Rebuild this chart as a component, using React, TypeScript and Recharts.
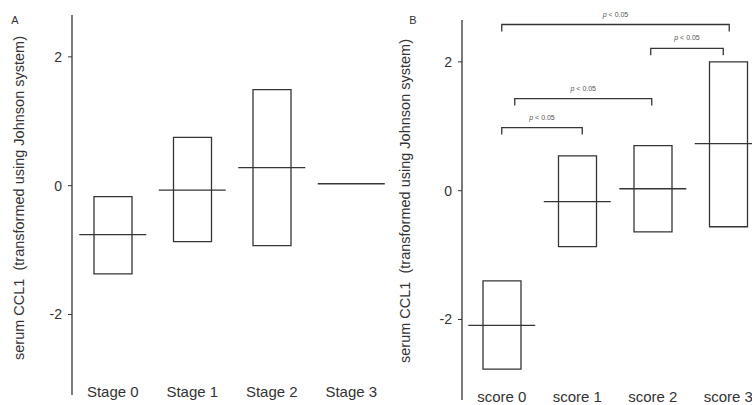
import React from "react";
import {
  ComposedChart,
  Bar,
  Scatter,
  XAxis,
  YAxis,
  ReferenceLine,
} from "recharts";

// panel A: tumour stage
const STAGES = ["Stage 0", "Stage 1", "Stage 2", "Stage 3"];
const STAGE_LOW = [-1.37, -0.87, -0.93, null];
const STAGE_HIGH = [-0.17, 0.75, 1.49, null];
const STAGE_MEDIAN = [-0.76, -0.07, 0.28, 0.03];

// panel B: score
const SCORES = ["score 0", "score 1", "score 2", "score 3"];
const SCORE_LOW = [-2.77, -0.87, -0.64, -0.56];
const SCORE_HIGH = [-1.4, 0.54, 0.7, 2.0];
const SCORE_MEDIAN = [-2.09, -0.17, 0.03, 0.73];

// significance brackets in panel B
const BRACKET_FROM = ["score 0", "score 2", "score 0", "score 0"];
const BRACKET_TO = ["score 3", "score 3", "score 2", "score 1"];
const BRACKET_LEVEL = [2.58, 2.21, 1.43, 0.98];
const BRACKET_TEXT = ["< 0.05", "< 0.05", "< 0.05", "< 0.05"];

const Y_TICKS = [-2, 0, 2];
const Y_DOMAIN: [number, number] = [-3.25, 2.65];
const Y_TITLE = "serum CCL1  (transformed using Johnson system)";

const INK = "#353535";
const FONT = "'Liberation Sans', Arial, Helvetica, sans-serif";

// small horizontal nudges (px) for the bracket ends, [start, end]
const BRACKET_NUDGE: [number, number][] = [
  [0, 1],
  [-2, -5],
  [13, -1],
  [0, 5],
];

function buildRows(
  cats: string[],
  low: (number | null)[],
  high: (number | null)[],
  median: number[]
) {
  return cats.map((c, i) => ({
    cat: c,
    box: low[i] == null || high[i] == null ? null : [low[i], high[i]],
    median: median[i],
  }));
}

const stageRows = buildRows(STAGES, STAGE_LOW, STAGE_HIGH, STAGE_MEDIAN);
const scoreRows = buildRows(SCORES, SCORE_LOW, SCORE_HIGH, SCORE_MEDIAN);

const MedianLine = (props: any) => {
  const { cx, cy } = props;
  if (cx == null || cy == null) return <g />;
  return (
    <line x1={cx - 33.5} x2={cx + 33.5} y1={cy} y2={cy} stroke={INK} strokeWidth={1.3} />
  );
};

const CatTick = (props: any) => {
  const { x, y, payload } = props;
  return (
    <text
      x={x}
      y={y - 12}
      textAnchor="middle"
      dominantBaseline="central"
      fontSize={15}
      fill="#333"
      fontFamily={FONT}
    >
      {payload.value}
    </text>
  );
};

const makeTitle =
  (letter: string, tx: number, ty: number, lx: number, ly: number) => (props: any) => {
    return (
      <g fontFamily={FONT} fill="#333">
        <text x={lx} y={ly} fontSize={11} textAnchor="middle" dominantBaseline="central">
          {letter}
        </text>
        <text
          x={tx}
          y={ty}
          transform={`rotate(-90, ${tx}, ${ty})`}
          textAnchor="middle"
          dominantBaseline="central"
          fontSize={14.5}
          style={{ whiteSpace: "pre" }}
        >
          {Y_TITLE}
        </text>
      </g>
    );
  };

const makeBracket = (idx: number) => (props: any) => {
  const { x1, x2, y1 } = props;
  if (x1 == null || x2 == null || y1 == null) return <g />;
  const [n0, n1] = BRACKET_NUDGE[idx];
  const a = Math.min(x1, x2) + n0;
  const b = Math.max(x1, x2) + n1;
  const y = y1;
  return (
    <g>
      <path
        d={`M${a},${y + 7} L${a},${y} L${b},${y} L${b},${y + 7}`}
        fill="none"
        stroke={INK}
        strokeWidth={1.3}
      />
      <text
        x={(a + b) / 2}
        y={y - 8}
        textAnchor="middle"
        fontSize={7}
        fill="#555"
        fontFamily={FONT}
      >
        <tspan fontStyle="italic">p</tspan> {BRACKET_TEXT[idx]}
      </text>
    </g>
  );
};

function Panel({
  rows,
  width,
  padLeft,
  letter,
  titleX,
  titleY,
  letterX,
  letterY,
  brackets,
}: {
  rows: any[];
  width: number;
  padLeft: number;
  letter: string;
  titleX: number;
  titleY: number;
  letterX: number;
  letterY: number;
  brackets: boolean;
}) {
  return (
    <ComposedChart
      width={width}
      height={405}
      data={rows}
      margin={{ top: 15, right: 0, bottom: 0, left: 0 }}
    >
      <XAxis
        dataKey="cat"
        type="category"
        axisLine={false}
        tickLine={false}
        height={10}
        tick={<CatTick />}
        padding={{ left: padLeft, right: 0 }}
        interval={0}
      />
      <YAxis
        type="number"
        domain={Y_DOMAIN}
        ticks={Y_TICKS}
        width={72}
        tickSize={4}
        tickMargin={6}
        axisLine={{ stroke: INK, strokeWidth: 1.3 }}
        tickLine={{ stroke: INK, strokeWidth: 1 }}
        tick={{ fontSize: 14, fill: "#333", fontFamily: FONT }}
        label={{ content: makeTitle(letter, titleX, titleY, letterX, letterY) }}
        allowDataOverflow
      />
      <Bar
        dataKey="box"
        barSize={38}
        fill="none"
        stroke={INK}
        strokeWidth={1.3}
        isAnimationActive={false}
      />
      <Scatter dataKey="median" shape={<MedianLine />} isAnimationActive={false} />
      {brackets &&
        BRACKET_FROM.map((from, i) => (
          <ReferenceLine
            key={i}
            segment={[
              { x: from, y: BRACKET_LEVEL[i] },
              { x: BRACKET_TO[i], y: BRACKET_LEVEL[i] },
            ]}
            shape={makeBracket(i)}
            ifOverflow="visible"
          />
        ))}
    </ComposedChart>
  );
}

export default function App() {
  return (
    <div
      style={{
        position: "absolute",
        left: 0,
        top: 0,
        width: 752,
        height: 405,
        overflow: "hidden",
        background: "#fff",
      }}
    >
      <div style={{ position: "absolute", left: 0, top: 0 }}>
        <Panel
          rows={stageRows}
          width={391}
          padLeft={1}
          letter="A"
          titleX={19}
          titleY={198}
          letterX={15}
          letterY={20}
          brackets={false}
        />
      </div>
      <div style={{ position: "absolute", left: 390, top: 5 }}>
        <Panel
          rows={scoreRows}
          width={376}
          padLeft={2}
          letter="B"
          titleX={15}
          titleY={196}
          letterX={23}
          letterY={15}
          brackets={true}
        />
      </div>
    </div>
  );
}
